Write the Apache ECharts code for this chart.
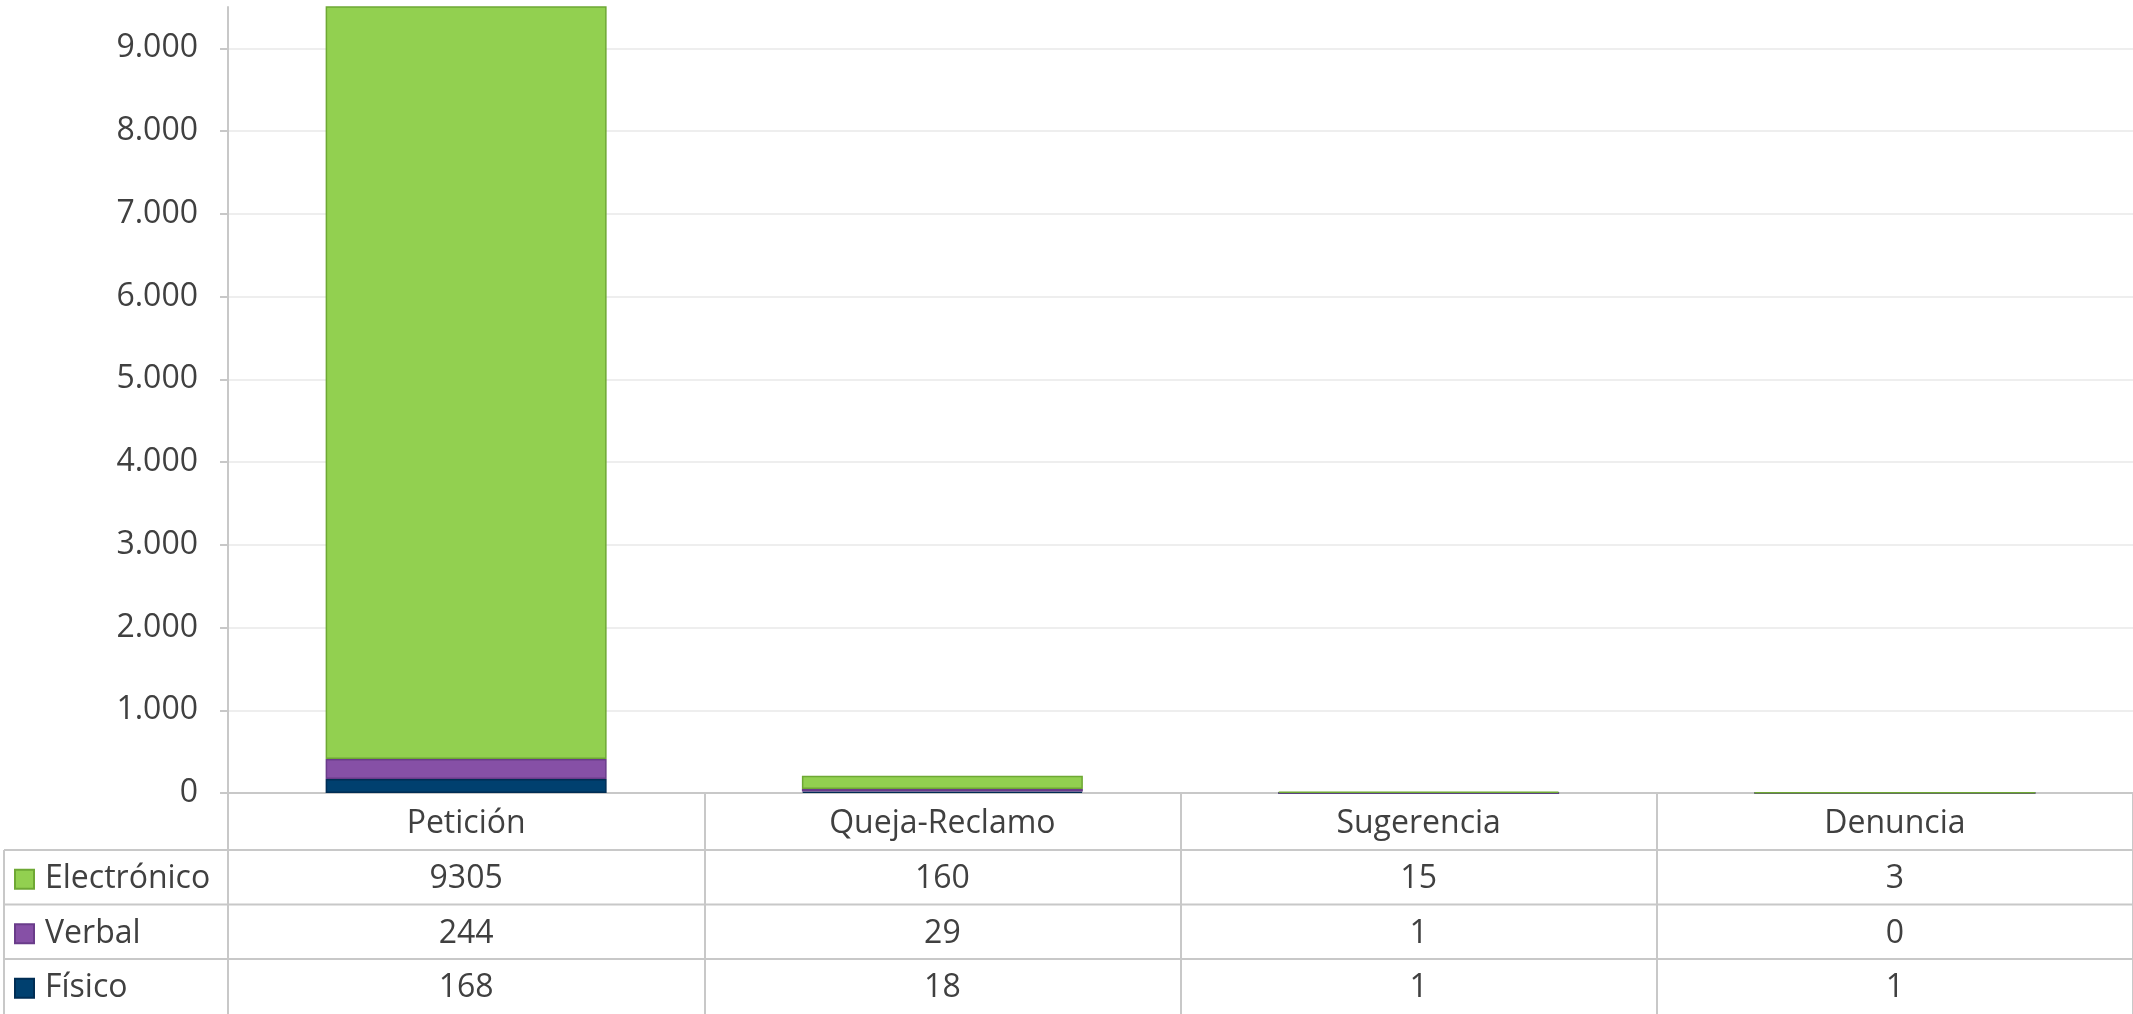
<!DOCTYPE html>
<html>
<head>
<meta charset="utf-8">
<script src="https://cdn.jsdelivr.net/npm/echarts@6/dist/echarts.min.js"></script>
<style>
  html, body { margin: 0; padding: 0; background: #fff; }
  #chart { width: 2133px; height: 1014px; }
</style>
</head>
<body>
<div id="chart"></div>
<script>
// data
const categories = ['Petición', 'Queja-Reclamo', 'Sugerencia', 'Denuncia'];
const electronico = [9305, 160, 15, 3];
const verbal = [244, 29, 1, 0];
const fisico = [168, 18, 1, 1];
const legendOrder = ['Electrónico', 'Verbal', 'Físico'];
const yMax = 9500;
const yStep = 1000;

// layout
const W = 2133, H = 1014;
const gridLeft = 228, gridTop = 7, gridBottom = 221;
const headerH = 57, rowH = 54.5;
const axisY = H - gridBottom;
const lineColor = '#c8c8c8';
const textColor = '#404040';
const font = '"Open Sans", "Noto Sans", sans-serif';
const fontSize = 32;

function fmt(v) {
  return String(v).replace(/\B(?=(\d{3})+(?!\d))/g, '.');
}

// horizontal lines of the data table + left edge
const tableLines = [];
for (let i = 0; i < 3; i++) {
  const y = axisY + headerH + i * rowH;
  tableLines.push({
    type: 'line',
    shape: { x1: 4, y1: y, x2: W, y2: y },
    style: { stroke: lineColor, lineWidth: 2 },
    silent: true
  });
}
tableLines.push({
  type: 'line',
  shape: { x1: 4, y1: axisY + headerH, x2: 4, y2: H },
  style: { stroke: lineColor, lineWidth: 2 },
  silent: true
});

// one legend per table row so every key sits in its row
const legends = legendOrder.map(function (name, i) {
  const center = axisY + headerH + rowH * i + rowH / 2 + 2;
  return {
    orient: 'vertical',
    left: 14,
    top: center - 16,
    padding: 0,
    itemWidth: 19,
    itemHeight: 19,
    icon: 'rect',
    data: [name],
    textStyle: { fontSize: fontSize, color: textColor, fontFamily: font, lineHeight: 32, padding: [0, 0, 0, 6] }
  };
});

const option = {
  backgroundColor: '#fff',
  animation: false,
  textStyle: { fontFamily: font, color: textColor },
  grid: { left: gridLeft, right: 0, top: gridTop, bottom: gridBottom, containLabel: false },
  legend: legends,
  xAxis: {
    type: 'category',
    data: categories,
    axisLine: { show: true, lineStyle: { color: lineColor, width: 2 } },
    axisTick: { show: true, interval: 0, length: gridBottom, lineStyle: { color: lineColor, width: 2 } },
    axisLabel: {
      interval: 0,
      margin: 2,
      formatter: function (value, idx) {
        return '{h|' + value + '}\n{v|' + electronico[idx] + '}\n{v|' + verbal[idx] + '}\n{v|' + fisico[idx] + '}';
      },
      rich: {
        h: { fontSize: fontSize, lineHeight: headerH, color: textColor, fontFamily: font },
        v: { fontSize: fontSize, lineHeight: rowH, color: textColor, fontFamily: font }
      }
    },
    splitLine: { show: false }
  },
  yAxis: {
    type: 'value',
    min: 0,
    max: yMax,
    interval: yStep,
    axisLine: { show: true, lineStyle: { color: lineColor, width: 2 } },
    axisTick: { show: true, length: 8, lineStyle: { color: lineColor, width: 2 } },
    axisLabel: {
      margin: 30,
      fontSize: fontSize,
      color: textColor,
      fontFamily: font,
      showMaxLabel: false,
      formatter: function (v) { return v === yMax ? '' : fmt(v); }
    },
    splitLine: { show: true, showMaxLine: false, lineStyle: { color: '#eeeeee', width: 2 } }
  },
  series: [
    {
      name: 'Físico', type: 'bar', stack: 'total', barWidth: '59%', data: fisico,
      itemStyle: { color: '#00406f', borderColor: '#002d54', borderWidth: 1.5 }
    },
    {
      name: 'Verbal', type: 'bar', stack: 'total', data: verbal,
      itemStyle: { color: '#8650a6', borderColor: '#6a3c8a', borderWidth: 1.5 }
    },
    {
      name: 'Electrónico', type: 'bar', stack: 'total', data: electronico,
      itemStyle: { color: '#92d050', borderColor: '#6ea834', borderWidth: 1.5 }
    }
  ],
  graphic: tableLines
};

const chart = echarts.init(document.getElementById('chart'));
chart.setOption(option);
</script>
</body>
</html>
